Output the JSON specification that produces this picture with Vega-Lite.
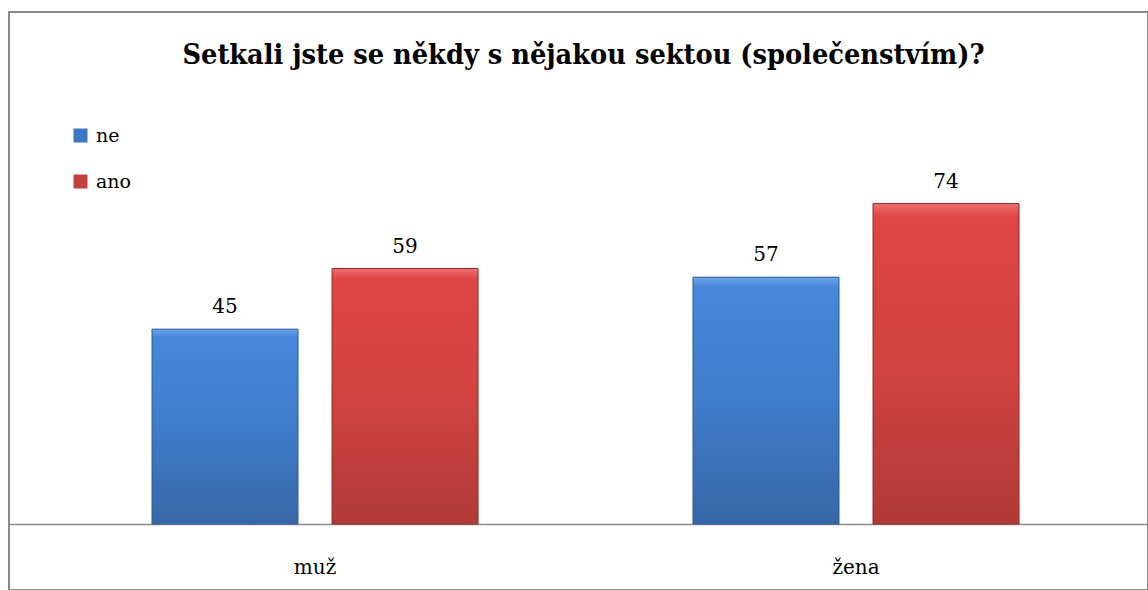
{
  "$schema": "https://vega.github.io/schema/vega-lite/v6.json",
  "width": 1139,
  "height": 578,
  "autosize": {"type": "none"},
  "padding": {"left": 9, "top": 12, "right": 0, "bottom": 0},
  "background": "white",
  "config": {
    "view": {"stroke": "#8a8a8a", "strokeWidth": 2},
    "font": "DejaVu Serif"
  },
  "title": {
    "text": "Setkali jste se někdy s nějakou sektou (společenstvím)?",
    "font": "DejaVu Serif Condensed, DejaVu Serif",
    "fontSize": 28.6,
    "fontWeight": "bold",
    "color": "#000000",
    "anchor": "middle",
    "baseline": "alphabetic",
    "offset": -81,
    "dx": 5
  },
  "data": {
    "values": [
      {"pohlavi": "muž", "odpoved": "ne", "pocet": 45},
      {"pohlavi": "muž", "odpoved": "ano", "pocet": 59},
      {"pohlavi": "žena", "odpoved": "ne", "pocet": 57},
      {"pohlavi": "žena", "odpoved": "ano", "pocet": 74}
    ]
  },
  "encoding": {
    "x": {
      "field": "pohlavi",
      "type": "nominal",
      "sort": ["muž", "žena"],
      "scale": {"paddingInner": 0, "paddingOuter": 0.0527, "align": 0.623},
      "axis": {
        "title": null,
        "labelAngle": 0,
        "ticks": false,
        "grid": false,
        "offset": -66,
        "domainColor": "#8a8a8a",
        "domainWidth": 1.5,
        "labelFont": "DejaVu Serif",
        "labelFontSize": 20,
        "labelColor": "#000000",
        "labelBaseline": "alphabetic",
        "labelPadding": 49
      }
    },
    "xOffset": {
      "field": "odpoved",
      "type": "nominal",
      "sort": ["ne", "ano"],
      "scale": {"paddingInner": 0.189, "paddingOuter": 0.597}
    },
    "y": {
      "field": "pocet",
      "type": "quantitative",
      "scale": {"domain": [-15.24, 118.24], "nice": false, "zero": false},
      "axis": null
    }
  },
  "layer": [
    {
      "mark": {"type": "bar"},
      "encoding": {
        "y2": {"datum": 0},
        "color": {
          "field": "odpoved",
          "type": "nominal",
          "sort": ["ne", "ano"],
          "scale": {"domain": ["ne", "ano"], "range": ["#3f78c2", "#c0403d"]},
          "legend": {
            "orient": "none",
            "legendX": 62,
            "legendY": 114,
            "title": null,
            "symbolType": "square",
            "symbolSize": 196,
            "symbolStrokeWidth": 0,
            "labelFont": "DejaVu Serif",
            "labelFontSize": 19,
            "labelColor": "#000000",
            "rowPadding": 26,
            "labelOffset": 6,
            "padding": 0
          }
        }
      }
    },
    {
      "transform": [{"filter": "datum.odpoved === 'ne'"}],
      "mark": {
        "type": "bar",
        "stroke": "#2f5a94",
        "strokeWidth": 1,
        "fill": {
          "gradient": "linear",
          "x1": 0, "y1": 0, "x2": 0, "y2": 1,
          "stops": [
            {"offset": 0, "color": "#6aa6ea"},
            {"offset": 0.04, "color": "#4787da"},
            {"offset": 0.5, "color": "#3f7cc9"},
            {"offset": 1, "color": "#3867a8"}
          ]
        }
      },
      "encoding": {"y2": {"datum": 0}}
    },
    {
      "transform": [{"filter": "datum.odpoved === 'ano'"}],
      "mark": {
        "type": "bar",
        "stroke": "#8e2c29",
        "strokeWidth": 1,
        "fill": {
          "gradient": "linear",
          "x1": 0, "y1": 0, "x2": 0, "y2": 1,
          "stops": [
            {"offset": 0, "color": "#f07070"},
            {"offset": 0.04, "color": "#de4644"},
            {"offset": 0.5, "color": "#d14340"},
            {"offset": 1, "color": "#b03a37"}
          ]
        }
      },
      "encoding": {"y2": {"datum": 0}}
    },
    {
      "mark": {
        "type": "text",
        "dy": -16,
        "baseline": "alphabetic",
        "fontSize": 20,
        "font": "DejaVu Serif",
        "color": "#000000"
      },
      "encoding": {"text": {"field": "pocet", "type": "quantitative"}}
    }
  ]
}
